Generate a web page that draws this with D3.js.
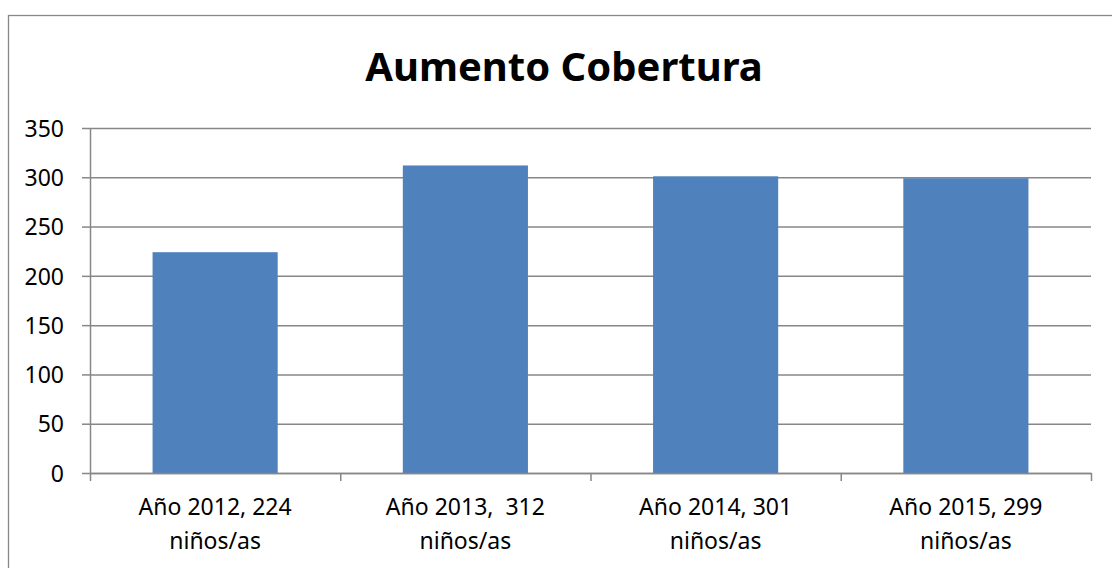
<!DOCTYPE html>
<html>
<head>
<meta charset="utf-8">
<script src="https://cdn.jsdelivr.net/npm/d3@7"></script>
<style>
  body { margin: 0; background: #fff; }
  text { font-family: "Noto Sans", "Open Sans", sans-serif; fill: #000; }
  .axis text { font-size: 23px; }
  .grid line, .axis line, .axis path { stroke: #878787; stroke-width: 1.5; }
</style>
</head>
<body>
<svg class="chart" width="1112" height="568"></svg>
<script>
// chart data
const chartTitle = "Aumento Cobertura";
const categoryLines = [
  ["Año 2012, 224", "niños/as"],
  ["Año 2013,  312", "niños/as"],
  ["Año 2014, 301", "niños/as"],
  ["Año 2015, 299", "niños/as"]
];
const values = [224, 312, 301, 299];
const yTicks = [0, 50, 100, 150, 200, 250, 300, 350];
const barColor = "#4F81BD";

//svg chart variables
var margin = {top: 128, right: 21, bottom: 95, left: 90};
var totalWidth = 1112, totalHeight = 568;
var width = totalWidth - margin.left - margin.right;
var height = totalHeight - margin.top - margin.bottom;

var chart = d3.select(".chart");

//outer frame
chart.append("rect")
    .attr("x", 8.5).attr("y", 15.5)
    .attr("width", 1120).attr("height", 600)
    .style("fill", "none")
    .style("stroke", "#888")
    .style("stroke-width", 1.3);

//title
chart.append("text")
    .attr("x", 564)
    .attr("y", 81)
    .attr("text-anchor", "middle")
    .style("font-size", "40px")
    .style("font-weight", "bold")
    .text(chartTitle);

//scales
var idx = values.map(function (d, i) { return i; });
var x = d3.scaleBand()
    .domain(idx)
    .range([0, width])
    .paddingInner(0.5)
    .paddingOuter(0.25);
var xEdge = d3.scaleLinear()
    .domain([0, values.length])
    .range([0, width]);
var y = d3.scaleLinear()
    .domain([0, d3.max(yTicks)])
    .range([height, 0]);

var plot = chart.append("g")
    .attr("transform", "translate(" + margin.left + "," + margin.top + ")");

//gridlines
plot.append("g")
    .attr("class", "grid")
    .call(d3.axisLeft(y).tickValues(yTicks).tickSize(-width).tickFormat(""))
    .select(".domain").remove();

//bars
plot.selectAll("rect.bar")
    .data(values)
    .enter()
    .append("rect")
    .attr("class", "bar")
    .attr("x", function (d, i) { return x(i); })
    .attr("y", function (d) { return y(d); })
    .attr("width", x.bandwidth())
    .attr("height", function (d) { return height - y(d); })
    .style("fill", barColor);

//y axis
var yAxis = plot.append("g")
    .attr("class", "axis")
    .call(d3.axisLeft(y).tickValues(yTicks).tickSizeInner(8).tickSizeOuter(0).tickPadding(18));
yAxis.selectAll("text").attr("dy", "0.36em");

//x axis (ticks on category boundaries)
plot.append("g")
    .attr("class", "axis")
    .attr("transform", "translate(0," + height + ")")
    .call(d3.axisBottom(xEdge).tickValues(d3.range(values.length + 1)).tickSizeInner(8).tickSizeOuter(0).tickFormat(""));

//category labels
var labels = plot.append("g")
    .attr("class", "axis")
    .selectAll("text")
    .data(categoryLines)
    .enter()
    .append("text")
    .attr("text-anchor", "middle")
    .attr("transform", function (d, i) {
        return "translate(" + (x(i) + x.bandwidth() / 2) + "," + (height + 42) + ")";
    })
    .style("white-space", "pre");
labels.selectAll("tspan")
    .data(function (d) { return d; })
    .enter()
    .append("tspan")
    .attr("x", 0)
    .attr("y", function (d, j) { return j * 34; })
    .text(function (d) { return d; });
</script>
</body>
</html>
